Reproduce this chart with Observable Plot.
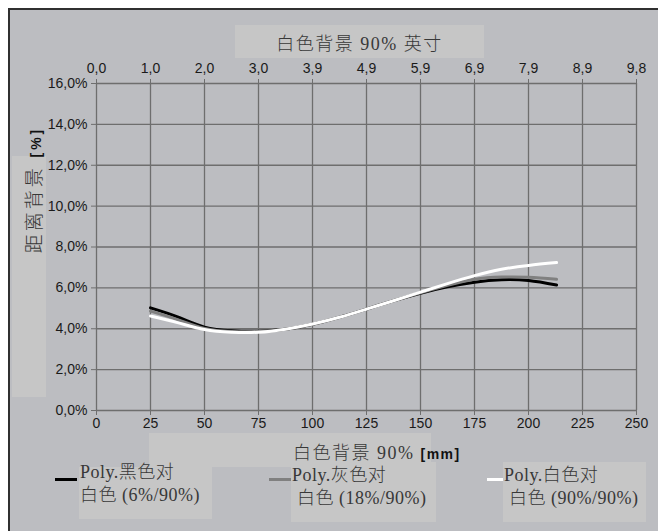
<!DOCTYPE html>
<html>
<head>
<meta charset="utf-8">
<script src="https://cdn.jsdelivr.net/npm/d3@7"></script>
<script src="https://cdn.jsdelivr.net/npm/@observablehq/plot@0.6"></script>
<style>
  html, body { margin: 0; padding: 0; background: #fff; }
  #wrap { position: relative; width: 658px; height: 531px; overflow: hidden; background: #fff; }
  .frame { position: absolute; left: 8px; top: 8px; width: 650px; height: 523px; box-sizing: border-box;
           background: #bcbdc1; border-top: 2px solid #303030; border-left: 2px solid #303030; }
  .box { position: absolute; background: #c6c6c6; }
  .txt { position: absolute; color: #383838; font-family: "Liberation Serif", "Noto Sans CJK SC", serif; font-weight: 300; white-space: nowrap; }
  .sw { position: absolute; height: 3px; }
  .b { font-family: "Liberation Sans", Arial, sans-serif; font-weight: bold; font-size: 14px; color: #111; }
  #chart { position: absolute; left: 0; top: 0; }
</style>
</head>
<body>
<div id="wrap">
  <div class="frame"></div>
  <!-- title -->
  <div class="box" style="left:235px;top:25px;width:249px;height:33px;"></div>
  <div class="txt" id="title" style="left:235px;top:29px;width:249px;text-align:center;font-size:18px;letter-spacing:1.5px;"></div>
  <!-- y label -->
  <div class="box" style="left:12px;top:156px;width:34px;height:241px;"></div>
  <div class="txt" id="ylab" style="left:32px;top:190px;font-size:19px;letter-spacing:3px;transform:translate(-50%,-50%) rotate(-90deg);"></div>
  <!-- x label -->
  <div class="box" style="left:149px;top:433px;width:282px;height:34px;"></div>
  <div class="txt" id="xlab" style="left:293px;top:438px;font-size:18px;letter-spacing:1.5px;"></div>
  <!-- legend -->
  <div class="box" style="left:79px;top:467px;width:133px;height:52px;"></div>
  <div class="box" style="left:291px;top:462px;width:145px;height:60px;"></div>
  <div class="box" style="left:503px;top:462px;width:143px;height:60px;"></div>
  <div id="legend"></div>
  <div id="chart"></div>
</div>
<script>
// ---- data ----
const xTicks = [0, 25, 50, 75, 100, 125, 150, 175, 200, 225, 250];
const inchLabels = ["0,0", "1,0", "2,0", "3,0", "3,9", "4,9", "5,9", "6,9", "7,9", "8,9", "9,8"];
const yTicks = [0, 2, 4, 6, 8, 10, 12, 14, 16];

const distMm = [25, 37.5, 50, 62.5, 75, 87.5, 100, 112.5, 125, 137.5, 150, 162.5, 175, 187.5, 200, 213];
const blackVals = [5.02, 4.58, 4.08, 3.90, 3.88, 3.98, 4.22, 4.56, 4.96, 5.37, 5.74, 6.05, 6.28, 6.40, 6.36, 6.14];
const grayVals  = [4.86, 4.45, 4.02, 3.87, 3.87, 3.98, 4.22, 4.56, 4.96, 5.37, 5.76, 6.12, 6.42, 6.53, 6.52, 6.42];
const whiteVals = [4.62, 4.30, 3.96, 3.83, 3.83, 3.98, 4.23, 4.56, 4.96, 5.37, 5.79, 6.21, 6.60, 6.91, 7.10, 7.24];

const seriesNames = ["Poly.黑色对", "Poly.灰色对", "Poly.白色对"];
const seriesSub = ["白色 (6%/90%)", " 白色 (18%/90%)", " 白色 (90%/90%)"];
const seriesColors = ["#000000", "#808080", "#ffffff"];
const seriesVals = [blackVals, grayVals, whiteVals];

const titleText = "白色背景 90% 英寸";
const yLabelText = "距离背景";
const xLabelText = "白色背景 90%";

// ---- texts ----
document.getElementById("title").textContent = titleText;
document.getElementById("ylab").innerHTML = yLabelText + ' <span class="b">[%]</span>';
document.getElementById("xlab").innerHTML = xLabelText + ' <span class="b">[mm]</span>';

const legendPos = [
  {sx: 55, sw: 22, tx: 80, ty: 461},
  {sx: 269, sw: 22, tx: 292, ty: 464},
  {sx: 487, sw: 16, tx: 504, ty: 464}
];
const leg = document.getElementById("legend");
seriesNames.forEach((n, i) => {
  const p = legendPos[i];
  const s = document.createElement("div");
  s.className = "sw";
  s.style.cssText = `left:${p.sx}px;top:478px;width:${p.sw}px;background:${seriesColors[i]};`;
  leg.appendChild(s);
  const t = document.createElement("div");
  t.className = "txt";
  t.style.cssText = `left:${p.tx}px;top:${p.ty}px;font-size:18px;line-height:23px;letter-spacing:0.5px;white-space:pre;`;
  t.textContent = n + "\n" + seriesSub[i];
  leg.appendChild(t);
});

// ---- chart ----
const data = [];
seriesVals.forEach((vals, s) => vals.forEach((v, j) => data.push({x: distMm[j], y: v, s})));
const fmtPct = d => d.toFixed(1).replace(".", ",") + "%";

const chart = Plot.plot({
  width: 658,
  height: 531,
  marginLeft: 96,
  marginRight: 22,
  marginTop: 83,
  marginBottom: 121,
  style: {background: "transparent", fontFamily: "'Liberation Sans', Arial, sans-serif", fontSize: "14px", color: "#1a1a1a"},
  x: {domain: [0, 250]},
  y: {domain: [0, 16]},
  marks: [
    Plot.gridX(xTicks, {stroke: "#6e6e6e", strokeOpacity: 1, strokeWidth: 1.3}),
    Plot.gridY(yTicks, {stroke: "#6e6e6e", strokeOpacity: 1, strokeWidth: 1.3}),
    Plot.axisY(yTicks, {tickSize: 5, tickPadding: 4, tickFormat: fmtPct, label: null, stroke: "#6e6e6e", fill: "#1a1a1a", fontSize: 14}),
    Plot.axisX(xTicks, {anchor: "bottom", tickSize: 5, tickPadding: 3, label: null, stroke: "#6e6e6e", fill: "#1a1a1a", fontSize: 14}),
    Plot.axisX(xTicks, {anchor: "top", tickSize: 5, tickPadding: 6, label: null, tickFormat: d => inchLabels[xTicks.indexOf(d)], stroke: "#6e6e6e", fill: "#1a1a1a", fontSize: 14}),
    ...[0, 1, 2].map(s => Plot.line(data.filter(d => d.s === s), {x: "x", y: "y", stroke: seriesColors[s], strokeWidth: 3, curve: "natural"}))
  ]
});
document.getElementById("chart").appendChild(chart);
</script>
</body>
</html>
